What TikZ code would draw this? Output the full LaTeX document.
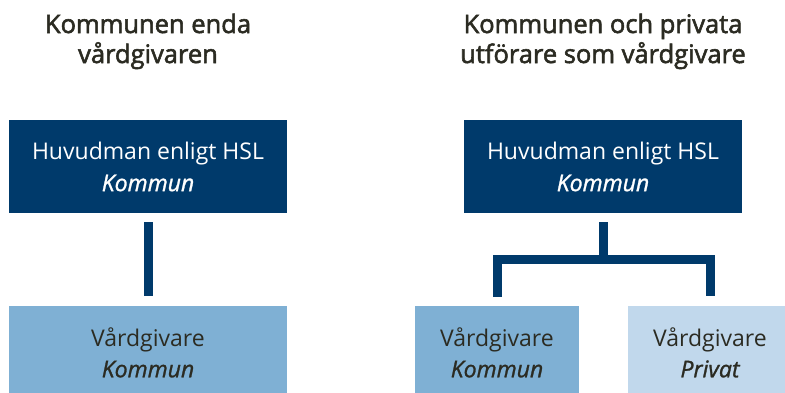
\documentclass[tikz,border=0pt]{standalone}
\usepackage{fontspec}
\setmainfont{Open Sans}
\newfontfamily\titlefont{Open Sans}[FakeBold=2.2]
\newfontfamily\subfont{Open Sans}[FakeBold=1.2]
\definecolor{navy}{HTML}{003A6B}
\definecolor{midblue}{HTML}{7FB0D4}
\definecolor{paleblue}{HTML}{C1D8EC}
\definecolor{ink}{HTML}{2B2B22}

\begin{document}
\begin{tikzpicture}[x=1pt, y=-1pt,
        head/.style={text=ink, align=center, inner sep=0pt,
            font=\titlefont\fontsize{25.5}{30}\selectfont},
        chief/.style={fill=navy, text=white, align=center, inner sep=0pt,
            minimum width=278pt, minimum height=93pt,
            font=\fontsize{23}{32}\selectfont},
        giver/.style={text=ink, align=center, inner sep=0pt,
            minimum height=93pt, font=\fontsize{23}{31}\selectfont},
        link/.style={draw=navy, line width=9pt,
            shorten <=9pt, shorten >=10pt}]
        \useasboundingbox (0, 0) rectangle (785, 392);

        \draw (148, 63) node[head, anchor=base] (tleft) {Kommunen enda\\vårdgivaren};
        \draw (603, 63) node[head, anchor=base] (tright) {Kommunen och privata\\utförare som vårdgivare};

        \draw (148, 166.5) node[chief] (hleft) {Huvudman enligt HSL\\{\subfont\itshape Kommun}};
        \draw (603, 166.5) node[chief] (hright) {Huvudman enligt HSL\\{\subfont\itshape Kommun}};

        \draw (148, 352.5) node[giver, fill=midblue, minimum width=278pt] (vleft) {Vårdgivare\\{\subfont\itshape Kommun}};
        \draw (497, 352.5) node[giver, fill=midblue, minimum width=164pt] (vkom) {Vårdgivare\\{\subfont\itshape Kommun}};
        \draw (710, 352.5) node[giver, fill=paleblue, minimum width=164pt] (vpriv) {Vårdgivare\\{\subfont\itshape Privat}};

        \coordinate (fork) at (603, 259);

        \draw[link] (hleft) -- (vleft);
        \draw[link, shorten >=0pt] (hright) -- (fork);
        \draw[link] (vkom) |- (fork) -| (vpriv);
    \end{tikzpicture}
\end{document}
